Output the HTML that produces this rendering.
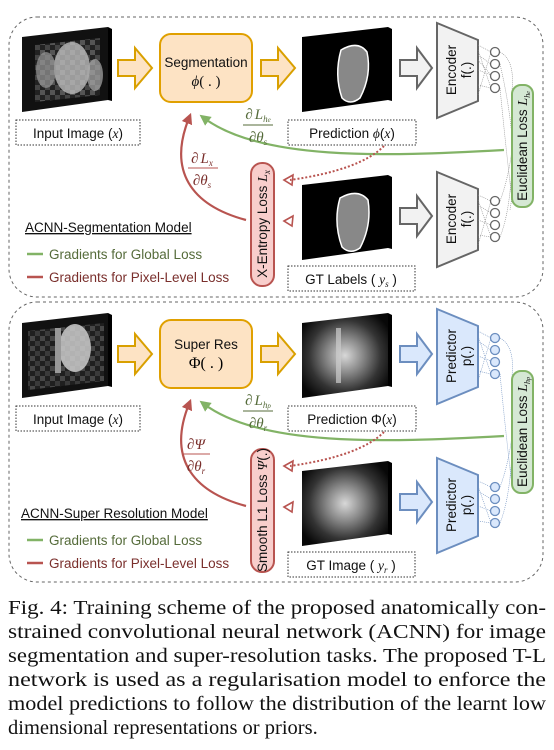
<!DOCTYPE html>
<html><head><meta charset="utf-8"><style>
html,body{margin:0;padding:0;background:#fff;}
svg{display:block;}
.lbl{font-family:"Liberation Sans",sans-serif;font-size:13.5px;fill:#111;}
.m{font-family:"Liberation Serif",serif;font-style:italic;}
.cap{font-family:"Liberation Serif",serif;font-size:20.5px;fill:#111;}
</style></head><body>
<svg width="554" height="750" viewBox="0 0 554 750" xmlns="http://www.w3.org/2000/svg">
<defs>
<radialGradient id="mri" cx="0.5" cy="0.5" r="0.6"><stop offset="0" stop-color="#d8d8d8"/><stop offset="0.35" stop-color="#888"/><stop offset="0.7" stop-color="#333"/><stop offset="1" stop-color="#080808"/></radialGradient>
<pattern id="blocky" width="10" height="10" patternUnits="userSpaceOnUse"><rect width="10" height="10" fill="#222"/><rect width="5" height="5" fill="#555"/><rect x="5" y="5" width="5" height="5" fill="#444"/></pattern>
<marker id="hg" viewBox="0 0 10 10" refX="5" refY="5" markerWidth="5" markerHeight="5" orient="auto"><path d="M0,0 L10,5 L0,10 z" fill="#82b366"/></marker>
<marker id="hr" viewBox="0 0 10 10" refX="5" refY="5" markerWidth="5" markerHeight="5" orient="auto"><path d="M0,0 L10,5 L0,10 z" fill="#b85450"/></marker>
</defs>

<g>
<rect x="9" y="17" width="534" height="280" rx="28" fill="none" stroke="#666" stroke-dasharray="3,3"/>
<g>
<polygon points="108,27 112,29 112,101 108,100" fill="#000"/>
<polygon points="22,37 108,27 108,100 22,112" fill="#111"/>
<polygon points="35,45 100,38 100,95 35,102" fill="url(#blocky)"/>
<ellipse cx="72" cy="68" rx="18" ry="26" fill="#bbb" opacity="0.8"/>
<ellipse cx="46" cy="70" rx="10" ry="18" fill="#999" opacity="0.7"/>
<ellipse cx="95" cy="75" rx="8" ry="16" fill="#aaa" opacity="0.7"/>
</g>
<path d="M118,60 H135 V48 L152,68 L135,88 V76 H118 Z" fill="#fde3c4" stroke="#d9a000" stroke-width="2"/>
<rect x="160" y="34" width="92" height="68" rx="11" fill="#fde3c4" stroke="#e0a000" stroke-width="2"/>
<text x="206" y="67" text-anchor="middle" class="lbl">Segmentation</text>
<text x="206" y="86" text-anchor="middle" class="lbl" style="font-family:'Liberation Serif',serif;font-size:15px"><tspan font-style="italic">ϕ</tspan>( . )</text>
<path d="M261,60 H278 V48 L295,68 L278,88 V76 H261 Z" fill="#fde3c4" stroke="#d9a000" stroke-width="2"/>
<g>
<polygon points="388,27 392,29 392,101 388,100" fill="#000"/>
<polygon points="302,37 388,27 388,100 302,112" fill="#000"/>
<path d="M341,50 Q358,40 367,52 Q372,75 360,98 Q350,106 342,98 Q334,75 341,50 Z" fill="#888" stroke="#fff" stroke-width="1.5"/>
</g>
<path d="M400,60 H417 V48 L432,68 L417,88 V76 H400 Z" fill="#f2f2f2" stroke="#666" stroke-width="2"/>
<g>
<polygon points="437,23 478,40 478,101 437,118" fill="#f2f2f2" stroke="#666" stroke-width="2"/>
<text transform="translate(458,70) rotate(-90)" text-anchor="middle" class="lbl" font-size="13" y="-2">Encoder</text>
<text transform="translate(458,70) rotate(-90)" text-anchor="middle" class="lbl" font-size="13" y="13">f(.)</text>
</g>
<g stroke="#888" stroke-width="0.6" fill="none" stroke-dasharray="1,1">
<path d="M478,45 L491,52 M478,55 L491,64 M478,70 L491,75 M478,85 L491,88 M478,50 L491,88 M478,95 L491,52 M478,60 L491,75"/>
<path d="M500,52 Q515,60 512,90 M500,88 Q505,140 512,200 M500,64 Q520,150 510,210"/>
</g>
<g fill="#fff" stroke="#666" stroke-width="1.3">
<circle cx="495" cy="52" r="4.5"/><circle cx="495" cy="64" r="4.5"/><circle cx="495" cy="76" r="4.5"/><circle cx="495" cy="88" r="4.5"/>
</g>
<rect x="16" y="120" width="124" height="25" fill="none" stroke="#333" stroke-dasharray="1.5,1.5"/>
<text x="78" y="138" text-anchor="middle" class="lbl">Input Image (<tspan class="m">x</tspan>)</text>
<rect x="288" y="120" width="128" height="25" fill="none" stroke="#333" stroke-dasharray="1.5,1.5"/>
<text x="352" y="138" text-anchor="middle" class="lbl">Prediction <tspan class="m">ϕ</tspan>(<tspan class="m">x</tspan>)</text>
<path d="M504,150 C380,157 260,160 204,118" fill="none" stroke="#82b366" stroke-width="2.2" marker-end="url(#hg)"/>
<g fill="#556b3a">
<text x="258" y="119" text-anchor="middle" font-size="15" style="font-family:'Liberation Serif',serif;font-style:italic">∂<tspan dx="2">L</tspan><tspan font-size="9" dy="3">h<tspan font-size="7">e</tspan></tspan></text>
<line x1="243" y1="125" x2="273" y2="125" stroke="#556b3a"/>
<text x="258" y="142" text-anchor="middle" font-size="15" style="font-family:'Liberation Serif',serif;font-style:italic">∂θ<tspan font-size="9" dy="3">s</tspan></text>
</g>
<path d="M384,146 Q360,170 290,180" fill="none" stroke="#b85450" stroke-width="2" stroke-dasharray="2,2"/>
<path d="M284,180 L293,175 L292,185 Z" fill="none" stroke="#b85450" stroke-width="1.6"/>
<path d="M284,221 L293,216 L292,226 Z" fill="none" stroke="#b85450" stroke-width="1.6"/>
<rect x="251" y="163" width="23" height="123" rx="11" fill="#f8cecc" stroke="#b85450" stroke-width="2"/>
<text transform="translate(267,224) rotate(-90)" text-anchor="middle" class="lbl" font-size="12.5">X-Entropy Loss <tspan style="font-family:'Liberation Serif',serif;font-style:italic" font-size="14">L<tspan font-size="9" dy="3">x</tspan></tspan></text>
<path d="M246,220 C190,205 168,170 189,118" fill="none" stroke="#b85450" stroke-width="2.2" marker-end="url(#hr)"/>
<g fill="#7a2f2c">
<text x="202" y="163" text-anchor="middle" font-size="15" style="font-family:'Liberation Serif',serif;font-style:italic">∂<tspan dx="2">L</tspan><tspan font-size="9" dy="3">x</tspan></text>
<line x1="188" y1="168" x2="218" y2="168" stroke="#b85450"/>
<text x="202" y="185" text-anchor="middle" font-size="15" style="font-family:'Liberation Serif',serif;font-style:italic">∂θ<tspan font-size="9" dy="3">s</tspan></text>
</g>
<g>
<polygon points="388,175 392,177 392,249 388,248" fill="#000"/>
<polygon points="302,185 388,175 388,248 302,260" fill="#000"/>
<path d="M340,198 Q358,188 368,200 Q372,225 360,248 Q350,255 342,247 Q333,222 340,198 Z" fill="#888" stroke="#fff" stroke-width="1.5"/>
</g>
<path d="M400,208 H417 V196 L432,216 L417,236 V224 H400 Z" fill="#f2f2f2" stroke="#666" stroke-width="2"/>
<g>
<polygon points="437,172 478,189 478,250 437,267" fill="#f2f2f2" stroke="#666" stroke-width="2"/>
<text transform="translate(458,219) rotate(-90)" text-anchor="middle" class="lbl" font-size="13" y="-2">Encoder</text>
<text transform="translate(458,219) rotate(-90)" text-anchor="middle" class="lbl" font-size="13" y="13">f(.)</text>
</g>
<g stroke="#888" stroke-width="0.6" fill="none" stroke-dasharray="1,1">
<path d="M478,195 L491,201 M478,205 L491,213 M478,220 L491,225 M478,235 L491,237 M478,200 L491,237 M478,245 L491,201"/>
<path d="M500,201 Q508,180 512,150 M500,237 Q515,200 512,110"/>
</g>
<g fill="#fff" stroke="#666" stroke-width="1.3">
<circle cx="495" cy="201" r="4.5"/><circle cx="495" cy="213" r="4.5"/><circle cx="495" cy="225" r="4.5"/><circle cx="495" cy="237" r="4.5"/>
</g>
<rect x="512" y="85" width="21" height="122" rx="9" fill="#d5e8d4" stroke="#82b366" stroke-width="2"/>
<text transform="translate(527,146) rotate(-90)" text-anchor="middle" class="lbl" font-size="12.5">Euclidean Loss <tspan style="font-family:'Liberation Serif',serif;font-style:italic" font-size="14">L<tspan font-size="8" dy="3">h<tspan font-size="6">e</tspan></tspan></tspan></text>
<rect x="288" y="266" width="127" height="25" fill="none" stroke="#333" stroke-dasharray="1.5,1.5"/>
<text x="351" y="284" text-anchor="middle" class="lbl">GT Labels ( <tspan style="font-family:'Liberation Serif',serif;font-style:italic">y<tspan font-size="9" dy="3">s</tspan></tspan><tspan dy="-3"> )</tspan></text>
<text x="25" y="232" class="lbl" text-decoration="underline">ACNN-Segmentation Model</text>
<line x1="27" y1="254" x2="43" y2="254" stroke="#82b366" stroke-width="2.5"/>
<text x="49" y="259" class="lbl" style="fill:#556b3a">Gradients for Global Loss</text>
<line x1="27" y1="277" x2="43" y2="277" stroke="#b85450" stroke-width="2.5"/>
<text x="49" y="282" class="lbl" style="fill:#7a2f2c">Gradients for Pixel-Level Loss</text>
</g>

<rect x="9" y="302" width="534" height="280" rx="28" fill="none" stroke="#666" stroke-dasharray="3,3"/>
<g transform="translate(0,286)">
<g>
<polygon points="108,27 112,29 112,101 108,100" fill="#000"/>
<polygon points="22,37 108,27 108,100 22,112" fill="#111"/>
<polygon points="28,45 104,37 104,95 28,104" fill="url(#blocky)" opacity="0.8"/>
<ellipse cx="75" cy="62" rx="16" ry="24" fill="#ccc" opacity="0.85"/>
<rect x="55" y="42" width="6" height="45" fill="#999"/>
</g>
<path d="M118,60 H135 V48 L152,68 L135,88 V76 H118 Z" fill="#fde3c4" stroke="#d9a000" stroke-width="2"/>
<rect x="160" y="34" width="92" height="68" rx="11" fill="#fde3c4" stroke="#e0a000" stroke-width="2"/>
<text x="206" y="63" text-anchor="middle" class="lbl">Super Res</text>
<text x="206" y="82" text-anchor="middle" style="font-family:'Liberation Serif',serif;font-size:16px">Φ( . )</text>
<path d="M261,60 H278 V48 L295,68 L278,88 V76 H261 Z" fill="#fde3c4" stroke="#d9a000" stroke-width="2"/>
<g>
<polygon points="388,27 392,29 392,101 388,100" fill="#000"/>
<polygon points="302,37 388,27 388,100 302,112" fill="url(#mri)"/>
<rect x="336" y="42" width="5" height="55" fill="#ccc" opacity="0.7"/>
</g>
<path d="M400,60 H417 V48 L432,68 L417,88 V76 H400 Z" fill="#dae8fc" stroke="#6c8ebf" stroke-width="2"/>
<g>
<polygon points="437,23 478,40 478,101 437,118" fill="#dae8fc" stroke="#6c8ebf" stroke-width="2"/>
<text transform="translate(458,70) rotate(-90)" text-anchor="middle" class="lbl" font-size="13" y="-2">Predictor</text>
<text transform="translate(458,70) rotate(-90)" text-anchor="middle" class="lbl" font-size="13" y="13">p(.)</text>
</g>
<g stroke="#6c8ebf" stroke-width="0.6" fill="none" stroke-dasharray="1,1">
<path d="M478,45 L491,52 M478,55 L491,64 M478,70 L491,75 M478,85 L491,88 M478,50 L491,88 M478,95 L491,52"/>
<path d="M500,52 Q515,60 512,90 M500,88 Q505,140 512,200"/>
<path d="M478,195 L491,201 M478,205 L491,213 M478,220 L491,225 M478,235 L491,237 M478,200 L491,237"/>
<path d="M500,201 Q508,180 512,150 M500,237 Q515,200 512,110"/>
</g>
<g fill="#dae8fc" stroke="#6c8ebf" stroke-width="1.3">
<circle cx="495" cy="52" r="4.5"/><circle cx="495" cy="64" r="4.5"/><circle cx="495" cy="76" r="4.5"/><circle cx="495" cy="88" r="4.5"/>
<circle cx="495" cy="201" r="4.5"/><circle cx="495" cy="213" r="4.5"/><circle cx="495" cy="225" r="4.5"/><circle cx="495" cy="237" r="4.5"/>
</g>
<rect x="16" y="120" width="124" height="25" fill="none" stroke="#333" stroke-dasharray="1.5,1.5"/>
<text x="78" y="138" text-anchor="middle" class="lbl">Input Image (<tspan class="m">x</tspan>)</text>
<rect x="288" y="120" width="128" height="25" fill="none" stroke="#333" stroke-dasharray="1.5,1.5"/>
<text x="352" y="138" text-anchor="middle" class="lbl">Prediction Φ(<tspan class="m">x</tspan>)</text>
<path d="M504,150 C380,157 260,160 204,118" fill="none" stroke="#82b366" stroke-width="2.2" marker-end="url(#hg)"/>
<g fill="#556b3a">
<text x="258" y="119" text-anchor="middle" font-size="15" style="font-family:'Liberation Serif',serif;font-style:italic">∂<tspan dx="2">L</tspan><tspan font-size="9" dy="3">h<tspan font-size="7">p</tspan></tspan></text>
<line x1="243" y1="125" x2="273" y2="125" stroke="#556b3a"/>
<text x="258" y="142" text-anchor="middle" font-size="15" style="font-family:'Liberation Serif',serif;font-style:italic">∂θ<tspan font-size="9" dy="3">r</tspan></text>
</g>
<path d="M384,146 Q360,170 290,180" fill="none" stroke="#b85450" stroke-width="2" stroke-dasharray="2,2"/>
<path d="M284,180 L293,175 L292,185 Z" fill="none" stroke="#b85450" stroke-width="1.6"/>
<path d="M284,221 L293,216 L292,226 Z" fill="none" stroke="#b85450" stroke-width="1.6"/>
<rect x="251" y="163" width="23" height="123" rx="11" fill="#f8cecc" stroke="#b85450" stroke-width="2"/>
<text transform="translate(267,224) rotate(-90)" text-anchor="middle" class="lbl" font-size="12.5">Smooth L1 Loss <tspan style="font-family:'Liberation Serif',serif;font-style:italic" font-size="14">Ψ</tspan>(.)</text>
<path d="M246,220 C190,205 168,170 189,118" fill="none" stroke="#b85450" stroke-width="2.2" marker-end="url(#hr)"/>
<g fill="#7a2f2c">
<text x="196" y="163" text-anchor="middle" font-size="15" style="font-family:'Liberation Serif',serif;font-style:italic">∂Ψ</text>
<line x1="182" y1="168" x2="210" y2="168" stroke="#b85450"/>
<text x="196" y="185" text-anchor="middle" font-size="15" style="font-family:'Liberation Serif',serif;font-style:italic">∂θ<tspan font-size="9" dy="3">r</tspan></text>
</g>
<g>
<polygon points="388,175 392,177 392,249 388,248" fill="#000"/>
<polygon points="302,185 388,175 388,248 302,260" fill="url(#mri)"/>
</g>
<path d="M400,208 H417 V196 L432,216 L417,236 V224 H400 Z" fill="#dae8fc" stroke="#6c8ebf" stroke-width="2"/>
<g>
<polygon points="437,172 478,189 478,250 437,267" fill="#dae8fc" stroke="#6c8ebf" stroke-width="2"/>
<text transform="translate(458,219) rotate(-90)" text-anchor="middle" class="lbl" font-size="13" y="-2">Predictor</text>
<text transform="translate(458,219) rotate(-90)" text-anchor="middle" class="lbl" font-size="13" y="13">p(.)</text>
</g>
<rect x="512" y="85" width="21" height="122" rx="9" fill="#d5e8d4" stroke="#82b366" stroke-width="2"/>
<text transform="translate(527,146) rotate(-90)" text-anchor="middle" class="lbl" font-size="12.5">Euclidean Loss <tspan style="font-family:'Liberation Serif',serif;font-style:italic" font-size="14">L<tspan font-size="8" dy="3">h<tspan font-size="6">p</tspan></tspan></tspan></text>
<rect x="288" y="266" width="127" height="25" fill="none" stroke="#333" stroke-dasharray="1.5,1.5"/>
<text x="351" y="284" text-anchor="middle" class="lbl">GT Image ( <tspan style="font-family:'Liberation Serif',serif;font-style:italic">y<tspan font-size="9" dy="3">r</tspan></tspan><tspan dy="-3"> )</tspan></text>
<text x="21" y="232" class="lbl" text-decoration="underline">ACNN-Super Resolution Model</text>
<line x1="27" y1="254" x2="43" y2="254" stroke="#82b366" stroke-width="2.5"/>
<text x="49" y="259" class="lbl" style="fill:#556b3a">Gradients for Global Loss</text>
<line x1="27" y1="277" x2="43" y2="277" stroke="#b85450" stroke-width="2.5"/>
<text x="49" y="282" class="lbl" style="fill:#7a2f2c">Gradients for Pixel-Level Loss</text>
</g>

<g>
<text x="8" y="614" class="cap" textLength="538" lengthAdjust="spacingAndGlyphs">Fig. 4: Training scheme of the proposed anatomically con-</text>
<text x="8" y="638" class="cap" textLength="538" lengthAdjust="spacingAndGlyphs">strained convolutional neural network (ACNN) for image</text>
<text x="8" y="662" class="cap" textLength="538" lengthAdjust="spacingAndGlyphs">segmentation and super-resolution tasks. The proposed T-L</text>
<text x="8" y="686" class="cap" textLength="538" lengthAdjust="spacingAndGlyphs">network is used as a regularisation model to enforce the</text>
<text x="8" y="710" class="cap" textLength="538" lengthAdjust="spacingAndGlyphs">model predictions to follow the distribution of the learnt low</text>
<text x="8" y="734" class="cap">dimensional representations or priors.</text>
</g>
</svg>
</body></html>
